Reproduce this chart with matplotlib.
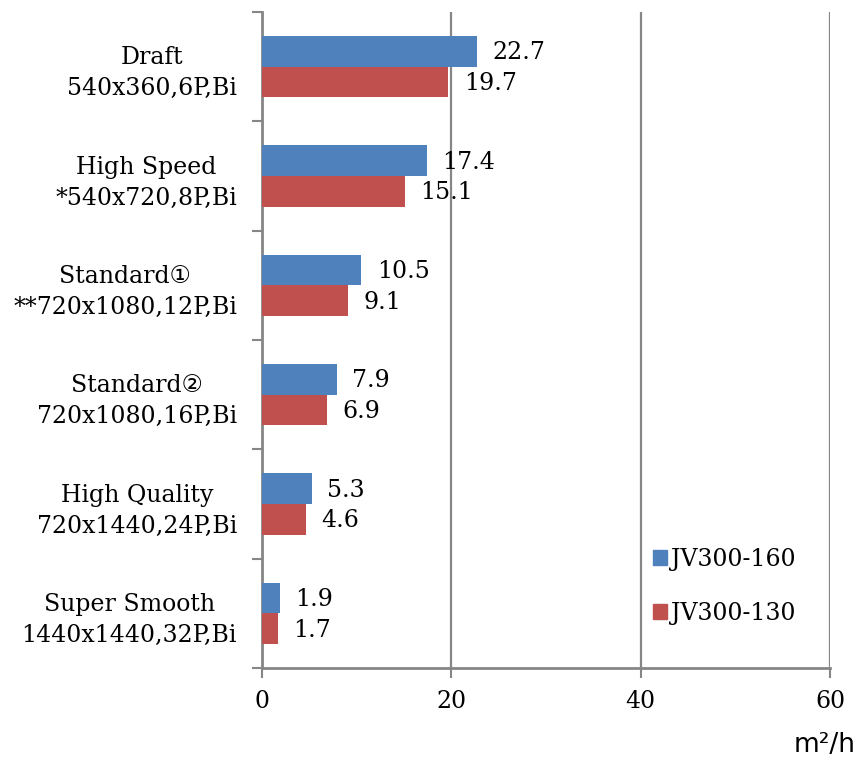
import numpy as np
import matplotlib.pyplot as plt
from matplotlib.patches import Patch

# data
modes = [
    "Draft\n540x360,6P,Bi",
    "High Speed\n*540x720,8P,Bi",
    "Standard\u2460\n**720x1080,12P,Bi",
    "Standard\u2461\n720x1080,16P,Bi",
    "High Quality\n720x1440,24P,Bi",
    "Super Smooth\n1440x1440,32P,Bi",
]
jv160 = [22.7, 17.4, 10.5, 7.9, 5.3, 1.9]
jv130 = [19.7, 15.1, 9.1, 6.9, 4.6, 1.7]
x_ticks = [0, 20, 40, 60]

blue = "#4F81BD"
red = "#C0504D"
grey = "#868686"
serif = ["DejaVu Serif", "DejaVu Sans"]
fs = 17

plt.rcParams["font.family"] = serif

fig = plt.figure(figsize=(8.57, 7.6), dpi=100)
ax = fig.add_axes([262 / 857, 1 - 668 / 760, 568 / 857, 656 / 760])

y = np.arange(len(modes))
h = 0.28
ax.barh(y - h / 2, jv160, height=h, color=blue, label="JV300-160", zorder=3)
ax.barh(y + h / 2, jv130, height=h, color=red, label="JV300-130", zorder=3)

for yy, v in zip(y - h / 2, jv160):
    ax.annotate(f"{v}", (v, yy), xytext=(11, -1), textcoords="offset points",
                va="center", ha="left", fontsize=fs, zorder=4)
for yy, v in zip(y + h / 2, jv130):
    ax.annotate(f"{v}", (v, yy), xytext=(11, -1), textcoords="offset points",
                va="center", ha="left", fontsize=fs, zorder=4)

ax.set_xlim(0, 60)
ax.set_ylim(len(modes) - 0.5, -0.5)
ax.set_xticks(x_ticks)
ax.set_xticklabels([str(t) for t in x_ticks], fontsize=fs)
ax.set_yticks(y)
ax.set_yticklabels(modes, fontsize=fs, linespacing=1.45, ha="right",
                   multialignment="center")
ax.tick_params(axis="y", which="major", length=0, pad=18)
ax.set_yticks(np.arange(-0.5, len(modes)), minor=True)
ax.tick_params(axis="y", which="minor", length=7, width=1.5, color=grey)
ax.tick_params(axis="x", length=7, width=1.5, color=grey, pad=9)

ax.grid(axis="x", color=grey, linewidth=1.6, zorder=0)
for s in ["top", "right"]:
    ax.spines[s].set_visible(False)
for s in ["left", "bottom"]:
    ax.spines[s].set_color(grey)
    ax.spines[s].set_linewidth(2)

fig.legend(handles=[Patch(color=blue, label="JV300-160"),
                    Patch(color=red, label="JV300-130")],
           loc="upper left", bbox_to_anchor=(632 / 857, 1 - 527 / 760),
           frameon=False, fontsize=fs, handlelength=0.6, handleheight=0.6,
           handletextpad=0.15, labelspacing=1.3)

fig.text(856 / 857, 1 - 745 / 760, "m\u00b2/h", fontsize=19, ha="right",
         va="center", family=["DejaVu Sans"])

fig.savefig("out.png", dpi=100)
